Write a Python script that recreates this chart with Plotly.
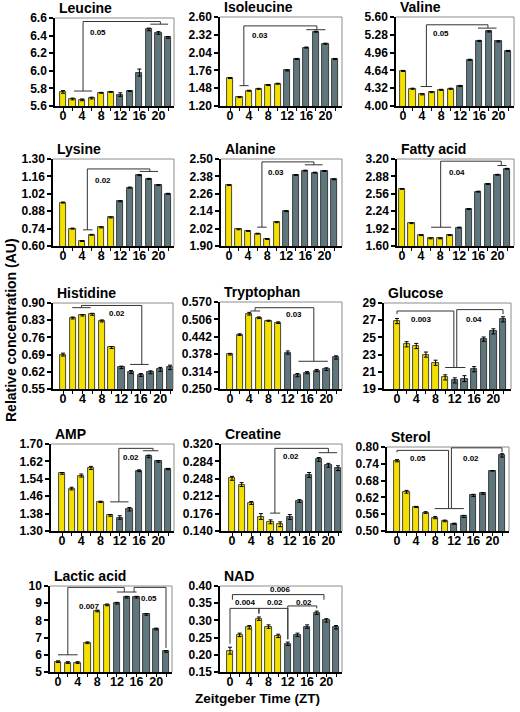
import plotly.graph_objects as go

W, H = 520, 712

zt = [0, 2, 4, 6, 8, 10, 12, 14, 16, 18, 20, 22]
x_tick_text = ["0", "", "4", "", "8", "", "12", "", "16", "", "20", ""]

leucine = [5.76, 5.68, 5.67, 5.69, 5.75, 5.76, 5.73, 5.77, 5.98, 6.47, 6.43, 6.38]
leucine_err = [0.015, 0.01, 0.01, 0.01, 0.005, 0.005, 0.02, 0.005, 0.04, 0.015, 0.015, 0.01]
isoleucine = [1.64, 1.34, 1.44, 1.47, 1.53, 1.55, 1.76, 1.94, 2.12, 2.37, 2.18, 1.94]
isoleucine_err = [0.008] * 12
valine = [4.63, 4.31, 4.21, 4.25, 4.29, 4.31, 4.36, 4.83, 5.17, 5.34, 5.16, 4.99]
valine_err = [0.01] * 12
lysine = [0.95, 0.74, 0.64, 0.69, 0.75, 0.83, 0.96, 1.07, 1.17, 1.14, 1.09, 1.02]
lysine_err = [0.004] * 12
alanine = [2.32, 2.015, 2.004, 1.985, 1.948, 2.064, 2.14, 2.39, 2.42, 2.406, 2.417, 2.36]
alanine_err = [0.003] * 12
fatty_acid = [2.65, 2.02, 1.80, 1.74, 1.74, 1.80, 1.94, 2.28, 2.60, 2.74, 2.91, 3.02]
fatty_acid_err = [0.008] * 12
histidine = [0.69, 0.839, 0.85, 0.854, 0.827, 0.719, 0.638, 0.619, 0.607, 0.618, 0.63, 0.638]
histidine_err = [0.006, 0.004, 0.003, 0.004, 0.004, 0.004, 0.005, 0.006, 0.006, 0.006, 0.008, 0.009]
tryptophan = [0.378, 0.45, 0.527, 0.512, 0.501, 0.494, 0.384, 0.301, 0.31, 0.318, 0.323, 0.366]
tryptophan_err = [0.003, 0.003, 0.005, 0.003, 0.002, 0.003, 0.006, 0.006, 0.004, 0.004, 0.005, 0.006]
glucose = [26.9, 24.2, 24.0, 23.0, 22.05, 20.35, 20.0, 20.2, 21.3, 24.8, 25.7, 27.1]
glucose_err = [0.3, 0.3, 0.3, 0.3, 0.3, 0.3, 0.3, 0.35, 0.3, 0.25, 0.3, 0.3]
amp = [1.565, 1.495, 1.555, 1.59, 1.434, 1.372, 1.362, 1.40, 1.577, 1.643, 1.62, 1.585]
amp_err = [0.004, 0.006, 0.007, 0.007, 0.003, 0.004, 0.008, 0.008, 0.004, 0.006, 0.004, 0.003]
creatine = [0.249, 0.236, 0.198, 0.17, 0.159, 0.154, 0.169, 0.202, 0.256, 0.288, 0.276, 0.27]
creatine_err = [0.004, 0.004, 0.003, 0.006, 0.004, 0.005, 0.005, 0.003, 0.005, 0.004, 0.004, 0.005]
sterol = [0.751, 0.64, 0.586, 0.566, 0.548, 0.536, 0.526, 0.552, 0.627, 0.634, 0.715, 0.77]
sterol_err = [0.004, 0.005, 0.002, 0.003, 0.004, 0.003, 0.002, 0.004, 0.004, 0.003, 0.001, 0.006]
lactic_acid = [5.6, 5.55, 5.55, 6.7, 8.55, 8.9, 9.0, 9.35, 9.35, 8.35, 7.5, 6.2]
lactic_acid_err = [0.05] * 12
nad = [0.212, 0.258, 0.28, 0.305, 0.282, 0.255, 0.232, 0.258, 0.282, 0.322, 0.30, 0.28]
nad_err = [0.01, 0.005, 0.005, 0.005, 0.005, 0.005, 0.005, 0.005, 0.005, 0.005, 0.005, 0.005]

yt_leu = ["5.6", "5.8", "6.0", "6.2", "6.4", "6.6"]
yt_ile = ["1.20", "1.48", "1.76", "2.04", "2.32", "2.60"]
yt_val = ["4.00", "4.32", "4.64", "4.96", "5.28", "5.60"]
yt_lys = ["0.60", "0.74", "0.88", "1.02", "1.16", "1.30"]
yt_ala = ["1.90", "2.02", "2.14", "2.26", "2.38", "2.50"]
yt_fa = ["1.60", "1.92", "2.24", "2.56", "2.88", "3.20"]
yt_his = ["0.55", "0.62", "0.69", "0.76", "0.83", "0.90"]
yt_trp = ["0.250", "0.314", "0.378", "0.442", "0.506", "0.570"]
yt_glc = ["19", "21", "23", "25", "27", "29"]
yt_amp = ["1.30", "1.38", "1.46", "1.54", "1.62", "1.70"]
yt_cre = ["0.140", "0.176", "0.212", "0.248", "0.284", "0.320"]
yt_ste = ["0.50", "0.56", "0.62", "0.68", "0.74", "0.80"]
yt_lac = ["5", "6", "7", "8", "9", "10"]
yt_nad = ["0.15", "0.20", "0.25", "0.30", "0.35", "0.40"]

# panel layout: (name, values, errors, yticks, axisL, axisR, bar0px, bar22px, top, bottom)
panels = [
    ("Leucine", leucine, leucine_err, yt_leu, 55, 174, 63, 168, 18, 106),
    ("Isoleucine", isoleucine, isoleucine_err, yt_ile, 220, 342, 230, 335, 17, 106),
    ("Valine", valine, valine_err, yt_val, 396, 514, 403, 508, 17, 106),
    ("Lysine", lysine, lysine_err, yt_lys, 53, 174, 63, 168, 159, 246),
    ("Alanine", alanine, alanine_err, yt_ala, 221, 342, 229, 334, 159, 246),
    ("Fatty acid", fatty_acid, fatty_acid_err, yt_fa, 397, 514, 402, 507, 159, 246),
    ("Histidine", histidine, histidine_err, yt_his, 53, 173, 63, 170, 303, 389),
    ("Tryptophan", tryptophan, tryptophan_err, yt_trp, 220, 342, 230, 336, 302, 389),
    ("Glucose", glucose, glucose_err, yt_glc, 384, 511, 397, 503, 303, 389),
    ("AMP", amp, amp_err, yt_amp, 51, 174, 62, 168, 444, 531),
    ("Creatine", creatine, creatine_err, yt_cre, 221, 342, 232, 338, 444, 531),
    ("Sterol", sterol, sterol_err, yt_ste, 387, 509, 397, 502, 447, 531),
    ("Lactic acid", lactic_acid, lactic_acid_err, yt_lac, 50, 172, 58, 166, 586, 672),
    ("NAD", nad, nad_err, yt_nad, 220, 342, 230, 336, 586, 672),
]

# significance annotations: group lines (x0, x1, y) and brackets (xa, ya, xb, yb, ytop, label, lx, ly)
groups = {
    "Leucine": [(2.3, 6.1, 5.77), (18.3, 22, 6.53)],
    "Isoleucine": [(2, 3.9, 1.52), (16, 20, 2.40)],
    "Valine": [(3.7, 6.1, 4.35), (15.7, 19.6, 5.40)],
    "Lysine": [(4.2, 6.2, 0.73), (16.1, 19.9, 1.20)],
    "Alanine": [(5.9, 7.9, 2.03), (15.9, 19.6, 2.46)],
    "Fatty acid": [(6.1, 10.3, 1.945), (20, 21.9, 3.08)],
    "Histidine": [(1.9, 5.7, 0.881), (13.8, 17.6, 0.65)],
    "Tryptophan": [(4.2, 6.25, 0.537), (14.2, 20.3, 0.352)],
    "Glucose": [(10, 14.2, 21.5)],
    "AMP": [(10, 13.8, 1.434), (16.8, 20, 1.669)],
    "Creatine": [(7.9, 10, 0.177), (18, 21.8, 0.302)],
    "Sterol": [(7.9, 14, 0.58)],
    "Lactic acid": [(0, 4, 6.0), (12, 16, 9.65)],
    "NAD": [],
}
brackets = {
    "Leucine": [(4.2, 5.77, 20.4, 6.53, 6.56, "0.05", 7.4, 6.43)],
    "Isoleucine": [(2.9, 1.52, 18.2, 2.40, 2.46, "0.03", 6.3, 2.31)],
    "Valine": [(4.9, 4.35, 17.8, 5.40, 5.46, "0.05", 8.0, 5.30)],
    "Lysine": [(5.1, 0.73, 18.2, 1.20, 1.22, "0.02", 8.4, 1.13)],
    "Alanine": [(6.9, 2.03, 17.8, 2.46, 2.48, "0.03", 9.8, 2.41)],
    "Fatty acid": [(8.1, 1.945, 20.8, 3.08, 3.16, "0.04", 11.5, 2.96)],
    "Histidine": [(3.8, 0.881, 16.2, 0.65, 0.89, "0.02", 11.0, 0.857)],
    "Tryptophan": [(5.2, 0.537, 17.4, 0.352, 0.549, "0.03", 13.2, 0.525)],
    "Glucose": [(0, 27.7, 11.8, 21.5, 28.07, "0.003", 5.0, 27.1),
                (12.4, 21.5, 22, 27.7, 28.23, "0.04", 16.0, 27.1)],
    "AMP": [(11.8, 1.434, 18.9, 1.669, 1.68, "0.02", 14.3, 1.64)],
    "Creatine": [(8.9, 0.177, 20.0, 0.302, 0.311, "0.02", 12.2, 0.295)],
    "Sterol": [(0, 0.781, 10.8, 0.58, 0.788, "0.05", 4.5, 0.76),
               (11.4, 0.58, 22, 0.781, 0.797, "0.02", 15.4, 0.76)],
    "Lactic acid": [(2, 6.0, 13.5, 9.65, 9.92, "0.007", 6.5, 8.8),
                    (15.5, 9.65, 22, 6.4, 9.92, "0.05", 18.6, 9.3)],
    "NAD": [(0, 0.232, 6, 0.32, 0.335, "0.004", 3.2, 0.352),
            (6, 0.32, 12, 0.245, 0.335, "0.02", 9.3, 0.352),
            (12, 0.245, 18, 0.335, 0.342, "0.02", 15.3, 0.352),
            (0.5, 0.36, 19.5, 0.36, 0.375, "0.006", 10.4, 0.391)],
}

YELLOW = "#F3E000"
GRAY = "#5F777C"
FONT = "Liberation Sans, Arial, sans-serif"

fig = go.Figure()
shapes = []
annotations = []
layout_axes = {}

for i, (name, vals, errs, yt, aL, aR, b0, b22, top, bot) in enumerate(panels):
    k = "" if i == 0 else str(i + 1)
    xa, ya = "x" + k, "y" + k
    s = (b22 - b0) / 22.0
    xr = [-(b0 - aL) / s, 22 + (aR - b22) / s]
    yv = [float(v) for v in yt]
    colors = [YELLOW if t < 12 else GRAY for t in zt]
    fig.add_trace(go.Bar(
        x=zt, y=vals, width=1.3, xaxis=xa, yaxis=ya,
        marker=dict(color=colors, line=dict(color="#1a1a1a", width=0.8)),
        error_y=dict(type="data", array=errs, color="black", thickness=1, width=2),
        showlegend=False, hoverinfo="skip",
    ))
    layout_axes["xaxis" + k] = dict(
        domain=[aL / W, aR / W], anchor=ya, range=xr, fixedrange=True, automargin=False,
        tickvals=zt, ticktext=x_tick_text, ticks="outside", ticklen=3, tickwidth=1,
        tickcolor="black", showline=True, linecolor="black", linewidth=1.5,
        showgrid=False, zeroline=False, ticklabelstandoff=-6,
        tickfont=dict(family=FONT, size=12.5, color="black", weight="bold"),
    )
    layout_axes["yaxis" + k] = dict(
        domain=[1 - bot / H, 1 - top / H], anchor=xa, range=[yv[0], yv[-1]], automargin=False,
        tickvals=yv, ticktext=yt, ticks="outside", ticklen=4, tickwidth=1.5,
        tickcolor="black", showline=True, linecolor="black", linewidth=1.5,
        showgrid=False, zeroline=False, fixedrange=True,
        tickfont=dict(family=FONT, size=12, color="black", weight="bold"),
    )
    shapes.append(dict(type="line", xref=xa + " domain", yref=ya + " domain",
                       x0=0, x1=1, y0=1, y1=1, line=dict(color="#8c8c8c", width=1)))
    shapes.append(dict(type="line", xref=xa + " domain", yref=ya + " domain",
                       x0=1, x1=1, y0=0, y1=1, line=dict(color="#8c8c8c", width=1)))
    for (g0, g1, gy) in groups[name]:
        shapes.append(dict(type="line", xref=xa, yref=ya, x0=g0, x1=g1, y0=gy, y1=gy,
                           line=dict(color="#333333", width=1)))
    for (bxa, bya, bxb, byb, btop, lab, lx, ly) in brackets[name]:
        path = f"M {bxa},{bya} L {bxa},{btop} L {bxb},{btop} L {bxb},{byb}"
        shapes.append(dict(type="path", xref=xa, yref=ya, path=path,
                           line=dict(color="#333333", width=1)))
        annotations.append(dict(xref=xa, yref=ya, x=lx, y=ly, text=lab, showarrow=False,
                                font=dict(family=FONT, size=8, color="black", weight="bold")))
    annotations.append(dict(xref="paper", yref="paper", x=(aL + 2) / W, y=1 - (top - 10) / H,
                            xanchor="left", yanchor="middle", text=name, showarrow=False,
                            font=dict(family=FONT, size=14, color="black", weight="bold")))

annotations.append(dict(xref="paper", yref="paper", x=11 / W, y=1 - 330 / H, text="Relative concentration (AU)",
                        textangle=-90, showarrow=False, xanchor="center", yanchor="middle",
                        font=dict(family=FONT, size=14, color="black", weight="bold")))
annotations.append(dict(xref="paper", yref="paper", x=257 / W, y=1 - 698 / H, text="Zeitgeber Time (ZT)",
                        showarrow=False, xanchor="center", yanchor="middle",
                        font=dict(family=FONT, size=13.5, color="black", weight="bold")))

fig.update_layout(
    width=W, height=H, margin=dict(l=0, r=0, t=0, b=0, autoexpand=False),
    paper_bgcolor="white", plot_bgcolor="white",
    shapes=shapes, annotations=annotations, bargap=0, showlegend=False,
    **layout_axes,
)

fig.write_html("out.html", config={"displayModeBar": False},
               post_script="document.body.style.margin='0px';")
